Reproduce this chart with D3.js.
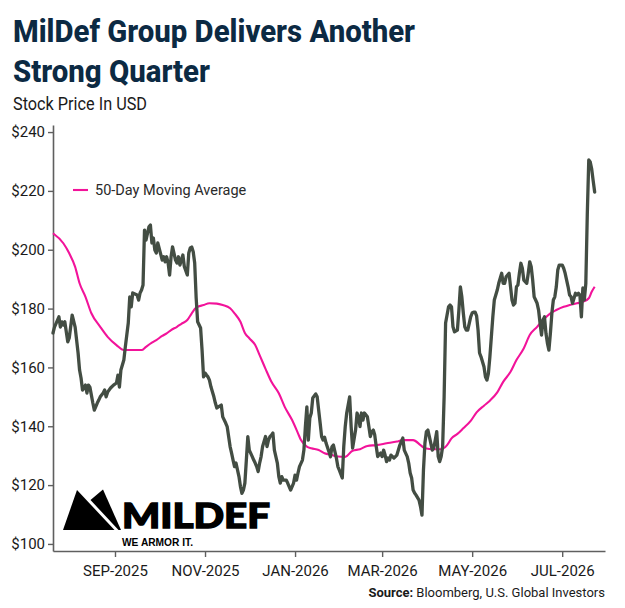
<!DOCTYPE html>
<html>
<head>
<meta charset="utf-8">
<script src="https://cdn.jsdelivr.net/npm/d3@7/dist/d3.min.js"></script>
<style>
  html, body { margin: 0; padding: 0; background: #ffffff; }
  svg { display: block; }
</style>
</head>
<body>
<svg id="chart" width="625" height="608"></svg>
<script>
// ---------------- DATA ----------------
const priceDates = [
"2025-07-21","2025-07-22","2025-07-25","2025-07-26","2025-07-27","2025-07-28","2025-07-29","2025-07-31","2025-08-01","2025-08-03",
"2025-08-05","2025-08-07","2025-08-08","2025-08-09","2025-08-10","2025-08-12","2025-08-13","2025-08-14","2025-08-15","2025-08-17",
"2025-08-18","2025-08-20","2025-08-21","2025-08-22","2025-08-24","2025-08-25","2025-08-26","2025-08-27","2025-08-29","2025-08-31",
"2025-09-02","2025-09-03","2025-09-04","2025-09-05","2025-09-07","2025-09-08","2025-09-10","2025-09-11","2025-09-12","2025-09-13",
"2025-09-16","2025-09-17","2025-09-18","2025-09-19","2025-09-20","2025-09-21","2025-09-22","2025-09-24","2025-09-25","2025-09-26",
"2025-09-27","2025-09-28","2025-09-29","2025-09-30","2025-10-03","2025-10-04","2025-10-05","2025-10-06","2025-10-07","2025-10-08",
"2025-10-09","2025-10-10","2025-10-12","2025-10-13","2025-10-14","2025-10-15","2025-10-16","2025-10-17","2025-10-18","2025-10-20",
"2025-10-21","2025-10-22","2025-10-23","2025-10-24","2025-10-25","2025-10-26","2025-10-27","2025-10-29","2025-10-30","2025-10-31",
"2025-11-01","2025-11-02","2025-11-03","2025-11-04","2025-11-05","2025-11-07","2025-11-08","2025-11-09","2025-11-10","2025-11-12",
"2025-11-13","2025-11-15","2025-11-16","2025-11-17","2025-11-18","2025-11-19","2025-11-20","2025-11-21","2025-11-22","2025-11-24",
"2025-11-25","2025-11-26","2025-11-27","2025-11-28","2025-11-29","2025-11-30","2025-12-01","2025-12-03","2025-12-04","2025-12-05",
"2025-12-06","2025-12-07","2025-12-08","2025-12-09","2025-12-10","2025-12-12","2025-12-13","2025-12-14","2025-12-15","2025-12-16",
"2025-12-17","2025-12-18","2025-12-20","2025-12-21","2025-12-22","2025-12-23","2025-12-24","2025-12-26","2025-12-27","2025-12-29",
"2025-12-30","2025-12-31","2026-01-01","2026-01-02","2026-01-03","2026-01-04","2026-01-06","2026-01-07","2026-01-08","2026-01-09",
"2026-01-10","2026-01-11","2026-01-12","2026-01-13","2026-01-15","2026-01-16","2026-01-17","2026-01-18","2026-01-19","2026-01-20",
"2026-01-21","2026-01-22","2026-01-24","2026-01-25","2026-01-26","2026-01-27","2026-01-28","2026-01-29","2026-01-30","2026-01-31",
"2026-02-02","2026-02-03","2026-02-04","2026-02-05","2026-02-07","2026-02-08","2026-02-09","2026-02-11","2026-02-12","2026-02-13",
"2026-02-14","2026-02-15","2026-02-16","2026-02-17","2026-02-19","2026-02-20","2026-02-21","2026-02-22","2026-02-23","2026-02-24",
"2026-02-25","2026-02-26","2026-02-28","2026-03-01","2026-03-02","2026-03-03","2026-03-04","2026-03-05","2026-03-06","2026-03-07",
"2026-03-09","2026-03-10","2026-03-11","2026-03-12","2026-03-13","2026-03-14","2026-03-15","2026-03-16","2026-03-18","2026-03-19",
"2026-03-20","2026-03-21","2026-03-22","2026-03-23","2026-03-24","2026-03-26","2026-03-27","2026-03-28","2026-03-29","2026-03-30",
"2026-03-31","2026-04-01","2026-04-02","2026-04-04","2026-04-05","2026-04-06","2026-04-07","2026-04-08","2026-04-09","2026-04-10",
"2026-04-11","2026-04-12","2026-04-13","2026-04-15","2026-04-16","2026-04-17","2026-04-18","2026-04-19","2026-04-21","2026-04-22",
"2026-04-23","2026-04-24","2026-04-25","2026-04-26","2026-04-27","2026-04-28","2026-04-30","2026-05-01","2026-05-02","2026-05-03",
"2026-05-04","2026-05-05","2026-05-06","2026-05-07","2026-05-09","2026-05-10","2026-05-11","2026-05-12","2026-05-13","2026-05-14",
"2026-05-15","2026-05-16","2026-05-18","2026-05-19","2026-05-20","2026-05-21","2026-05-22","2026-05-23","2026-05-24","2026-05-26",
"2026-05-27","2026-05-28","2026-05-29","2026-05-30","2026-05-31","2026-06-01","2026-06-02","2026-06-03","2026-06-04","2026-06-05",
"2026-06-07","2026-06-08","2026-06-09","2026-06-10","2026-06-11","2026-06-12","2026-06-13","2026-06-14","2026-06-15","2026-06-16",
"2026-06-17","2026-06-18","2026-06-19","2026-06-20","2026-06-21","2026-06-22","2026-06-23","2026-06-24","2026-06-25","2026-06-26",
"2026-06-27","2026-06-28","2026-06-29","2026-07-01","2026-07-02","2026-07-03","2026-07-04","2026-07-05","2026-07-06","2026-07-07",
"2026-07-08","2026-07-10","2026-07-11","2026-07-12","2026-07-13","2026-07-14","2026-07-15","2026-07-16","2026-07-17","2026-07-18",
"2026-07-19","2026-07-20","2026-07-21","2026-07-22","2026-07-23"
];
const priceValues = [
171.7,173.7,177.2,173.7,175.5,174.4,175.5,168.7,170.0,177.8,
173.7,164.9,159.1,156.4,152.3,154.0,151.3,154.0,153.3,147.9,
145.5,147.9,148.9,150.0,151.3,152.3,150.0,151.6,153.0,154.0,
154.7,157.4,153.3,159.1,162.5,167.0,175.1,184.0,180.6,185.3,
184.6,182.9,185.3,186.3,188.0,206.7,203.3,207.8,208.4,202.3,
204.0,199.9,198.9,202.3,196.5,197.6,195.9,197.6,195.5,191.4,
197.6,201.0,196.5,195.5,197.6,194.8,196.5,198.2,194.2,191.4,
198.9,200.6,200.9,199.3,195.5,183.6,175.5,173.4,165.9,156.8,
158.1,157.4,156.8,155.7,153.4,150.0,147.9,146.2,146.6,147.2,
143.2,141.1,139.9,136.5,133.1,130.9,128.5,126.3,127.5,122.9,
119.5,117.2,118.3,120.7,128.5,136.5,131.9,129.7,128.5,127.5,
126.3,124.6,127.5,129.7,133.1,136.5,133.1,135.3,136.5,137.0,
137.7,131.9,127.5,122.9,120.7,122.9,121.7,121.7,120.7,118.3,
119.5,120.7,123.4,121.7,124.1,126.3,128.5,131.9,139.9,146.6,
135.3,142.8,144.5,149.6,151.0,150.0,145.5,141.1,136.5,135.3,
136.3,134.3,131.3,129.6,133.0,133.6,131.4,129.2,126.3,125.1,
122.4,133.1,139.9,144.5,150.0,139.9,132.6,138.7,144.5,143.2,
139.9,144.5,142.1,144.5,143.2,139.9,136.5,138.2,138.7,137.0,
133.1,129.7,130.9,129.7,131.9,130.2,128.0,129.2,128.5,130.2,
129.2,129.7,130.2,131.9,133.6,134.8,136.0,131.9,129.7,127.5,
124.1,122.4,118.3,117.3,116.6,114.9,112.7,109.8,125.1,134.3,
138.2,138.7,136.5,131.9,132.6,135.3,138.2,129.7,128.0,129.7,
133.1,150.0,175.1,180.6,181.2,180.6,173.8,172.1,172.7,179.5,
187.4,184.0,178.5,173.8,172.7,172.7,177.2,178.5,178.8,178.8,
177.5,172.7,164.9,163.6,160.2,156.8,155.7,158.0,163.6,170.4,
177.2,182.9,186.3,188.6,190.3,192.0,188.6,188.6,190.8,192.0,
187.4,182.9,181.2,181.8,187.4,188.0,192.0,195.4,193.7,189.7,
188.6,192.0,195.9,194.2,189.7,184.0,182.9,181.8,179.5,175.0,
171.0,176.1,177.2,171.6,168.2,165.9,171.6,178.4,182.9,184.0,
187.4,193.1,194.8,194.8,193.7,192.0,189.7,187.4,184.6,184.0,
181.8,185.2,184.6,185.2,184.6,177.2,187.0,183.0,188.5,212.0,
230.5,229.8,227.4,223.4,219.6
];
const maDates = [
"2025-07-21","2025-07-28","2025-08-01","2025-08-05","2025-08-08","2025-08-12","2025-08-16","2025-08-22","2025-08-27","2025-09-02",
"2025-09-07","2025-09-11","2025-09-16","2025-09-19","2025-09-22","2025-09-26","2025-09-29",
"2025-10-03","2025-10-06","2025-10-09","2025-10-13","2025-10-16","2025-10-20","2025-10-23","2025-10-26","2025-10-31","2025-11-04",
"2025-11-09","2025-11-13","2025-11-18","2025-11-21","2025-11-25","2025-11-28","2025-12-01","2025-12-05","2025-12-08","2025-12-12",
"2025-12-16","2025-12-21","2025-12-25","2025-12-30","2026-01-03","2026-01-05","2026-01-09","2026-01-12","2026-01-17","2026-01-21",
"2026-01-26","2026-01-30","2026-02-04","2026-02-09","2026-02-14","2026-02-19","2026-02-25","2026-03-04","2026-03-11","2026-03-15",
"2026-03-22","2026-03-27","2026-03-30","2026-04-05","2026-04-10","2026-04-14","2026-04-17","2026-04-21","2026-04-25","2026-04-30",
"2026-05-04","2026-05-09","2026-05-13","2026-05-18","2026-05-22","2026-05-27","2026-05-31","2026-06-05","2026-06-09","2026-06-14",
"2026-06-18","2026-06-23","2026-06-27","2026-07-02","2026-07-06","2026-07-11","2026-07-15","2026-07-19","2026-07-21","2026-07-23"
];
const maValues = [
205.6,202.2,198.8,194.2,188.6,184.0,178.4,173.8,170.4,167.6,
165.9,165.9,165.9,165.9,167.0,168.4,169.3,
170.7,171.6,172.7,173.8,174.8,176.1,178.4,180.3,181.2,181.8,
181.7,181.2,180.1,178.4,175.5,171.7,169.9,167.6,164.2,159.5,
155.1,151.2,146.6,142.1,137.6,135.3,133.1,132.5,131.9,130.8,
130.2,129.7,129.6,131.7,132.2,133.3,133.6,134.2,134.8,135.3,
135.3,133.6,132.5,132.2,132.2,133.6,135.9,137.4,139.3,141.8,
144.7,147.0,148.7,151.5,155.1,158.5,162.5,166.5,171.0,173.8,
176.1,178.4,179.5,180.6,181.2,181.8,182.3,183.5,185.7,187.4
];
const yTickValues = [100, 120, 140, 160, 180, 200, 220, 240];
const xDomain = ["2025-07-21", "2026-07-30"];
const yDomain = [97.6, 242.4];
const titleLines = ["MilDef Group Delivers Another", "Strong Quarter"];
const subtitle = "Stock Price In USD";
const legendLabel = "50-Day Moving Average";
const sourceBold = "Source:";
const sourceText = " Bloomberg, U.S. Global Investors";

// ---------------- CHART ----------------
const parse = d3.timeParse("%Y-%m-%d");
const price = priceDates.map((d, i) => ({ date: parse(d), value: priceValues[i] }));
const ma = maDates.map((d, i) => ({ date: parse(d), value: maValues[i] }));

const svg = d3.select("#chart");
const FONT = "Roboto, 'Open Sans', sans-serif";
const plot = { left: 53, right: 605, top: 125, bottom: 551 };

const x = d3.scaleTime().domain(xDomain.map(parse)).range([plot.left, plot.right]);
const y = d3.scaleLinear().domain(yDomain).range([plot.bottom, plot.top]);

// Title
const title = svg.append("g").attr("font-family", FONT).attr("font-weight", 800).attr("fill", "#0c2a43");
title.append("text").attr("x", 13).attr("y", 42).attr("font-size", 32)
  .attr("textLength", 402).attr("lengthAdjust", "spacingAndGlyphs").text(titleLines[0]);
title.append("text").attr("x", 13).attr("y", 82).attr("font-size", 32)
  .attr("textLength", 197).attr("lengthAdjust", "spacingAndGlyphs").text(titleLines[1]);

svg.append("text").attr("x", 13).attr("y", 110)
  .attr("font-family", FONT).attr("font-weight", 400).attr("font-size", 19).attr("fill", "#1a1a1a")
  .attr("textLength", 134).attr("lengthAdjust", "spacingAndGlyphs")
  .text(subtitle);

// Logo (decorative)
const logo = svg.append("g").attr("fill", "#000");
logo.append("path").attr("d", "M63,530 L77,490 L114.5,530 Z");
logo.append("path").attr("d", "M90.5,500 L103,489.5 L121,530 L118.5,530 Z");
logo.append("text").attr("x", 122).attr("y", 528)
  .attr("font-family", "Lato, 'DejaVu Sans', sans-serif").attr("font-weight", 900)
  .attr("font-size", 35).attr("stroke", "#000").attr("stroke-width", 1.4)
  .attr("textLength", 148).attr("lengthAdjust", "spacingAndGlyphs").text("MILDEF");
logo.append("text").attr("x", 122).attr("y", 545.5)
  .attr("font-family", "'Liberation Sans', Arial, sans-serif").attr("font-weight", 700)
  .attr("font-size", 10.5)
  .attr("textLength", 71).attr("lengthAdjust", "spacingAndGlyphs").text("WE ARMOR IT.");

// Axes
const axisColor = "#5f5f5f";
const yAxis = svg.append("g").attr("transform", `translate(${plot.left},0)`)
  .call(d3.axisLeft(y).tickValues(yTickValues).tickFormat(d => "$" + d).tickSize(5).tickSizeOuter(0).tickPadding(3));
const xAxis = svg.append("g").attr("transform", `translate(0,${plot.bottom})`)
  .call(d3.axisBottom(x).ticks(d3.timeMonth.every(2)).tickFormat(d => d3.timeFormat("%b-%Y")(d).toUpperCase())
    .tickSize(6).tickSizeOuter(0).tickPadding(8));
[yAxis, xAxis].forEach(g => {
  g.select(".domain").attr("stroke", axisColor).attr("stroke-width", 1.6);
  g.selectAll(".tick line").attr("stroke", axisColor).attr("stroke-width", 1.4);
  g.selectAll(".tick text").attr("fill", "#1a1a1a").attr("font-family", FONT).attr("font-size", 15);
});

// Lines
svg.append("path").datum(ma)
  .attr("fill", "none").attr("stroke", "#f2139a").attr("stroke-width", 2.1)
  .attr("d", d3.line().x(d => x(d.date)).y(d => y(d.value)).curve(d3.curveMonotoneX));
svg.append("path").datum(price)
  .attr("fill", "none").attr("stroke", "#434d43").attr("stroke-width", 3.3)
  .attr("stroke-linejoin", "round").attr("stroke-linecap", "round")
  .attr("d", d3.line().x(d => x(d.date)).y(d => y(d.value)));

// Legend
svg.append("line").attr("x1", 73).attr("x2", 88).attr("y1", 190).attr("y2", 190)
  .attr("stroke", "#f2139a").attr("stroke-width", 2.1);
svg.append("text").attr("x", 95).attr("y", 195)
  .attr("font-family", FONT).attr("font-size", 14.5).attr("fill", "#2a2a2a").text(legendLabel);

// Source
const src = svg.append("text").attr("x", 605).attr("y", 597).attr("text-anchor", "end")
  .attr("font-family", FONT).attr("font-size", 13).attr("fill", "#1a1a1a");
src.append("tspan").attr("font-weight", 700).text(sourceBold);
src.append("tspan").text(sourceText);
</script>
</body>
</html>
